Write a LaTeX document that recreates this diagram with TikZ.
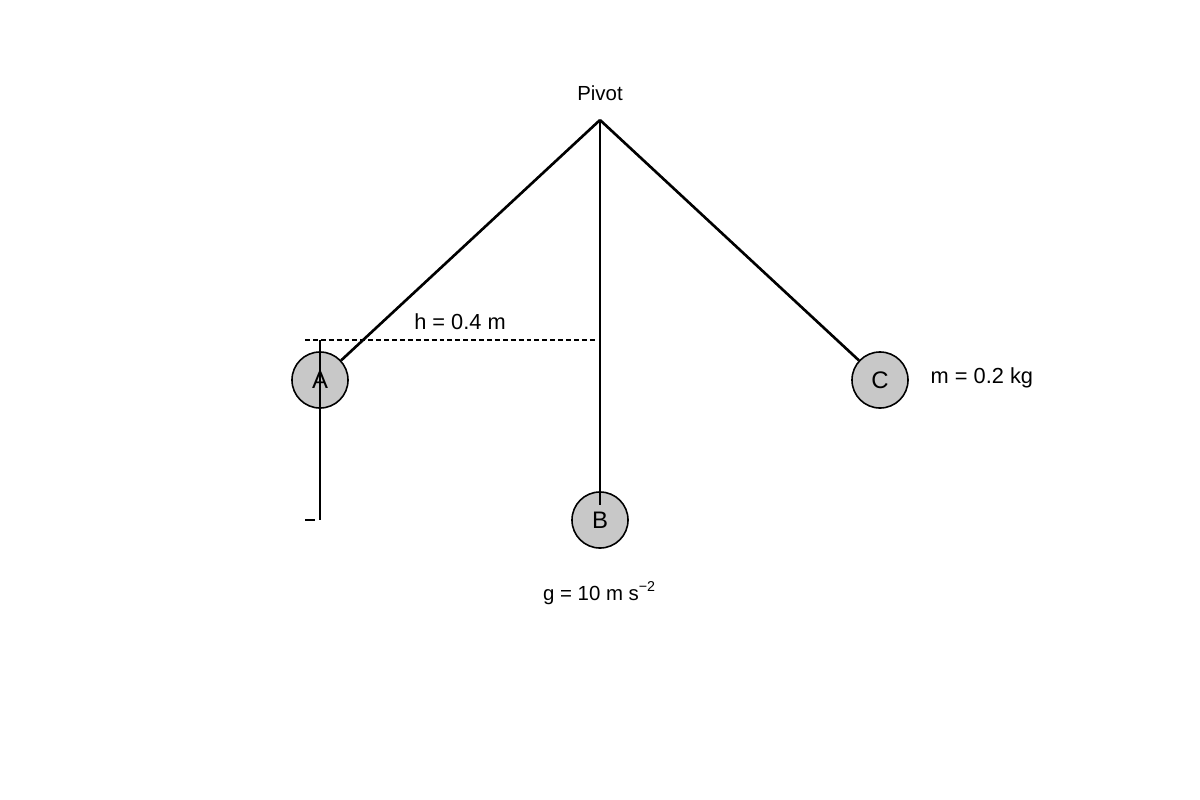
\documentclass[tikz,border=0pt]{standalone}
\usepackage{fontspec}
\setmainfont{Liberation Sans}
\begin{document}
\begin{tikzpicture}[x=0.01cm,y=-0.01cm,
  bob/.style={circle,draw,line width=0.45pt,fill={rgb,255:red,200;green,200;blue,200},inner sep=0pt,minimum size=0.56cm,font=\fontsize{6.8}{8}\selectfont},
  rod/.style={line width=0.75pt},
  lbl/.style={font=\fontsize{6.2}{7.5}\selectfont}]
\useasboundingbox (0,0) rectangle (1200,800);
\coordinate (P) at (600,120);
\node[bob] (A) at (320,380) {A};
\node[bob] (B) at (600,520) {B};
\node[bob] (C) at (880,380) {C};
\draw[rod] (P) -- (A);
\draw[rod] (P) -- (C);
\coordinate (Bt) at (600,505);
\draw[rod] (P) -- (Bt);
\coordinate (d1) at (305,340);
\coordinate (d2) at (597,340);
\draw[line width=0.45pt,dash pattern=on 1.4pt off 0.85pt] (d1) -- (d2);
\coordinate (v1) at (320,340);
\coordinate (v2) at (320,520);
\draw[line width=0.45pt] (v1) -- (v2);
\coordinate (t1) at (305,520);
\coordinate (t2) at (315,520);
\draw[line width=0.45pt] (t1) -- (t2);
\node[font=\fontsize{5.8}{7}\selectfont] (pl) at (600,93) {Pivot};
\node[lbl] (hl) at (460,322) {h = 0.4 m};
\node[lbl,anchor=west,inner sep=0pt] (ml) at (930,378) {m = 0.2 kg};
\node[font=\fontsize{5.8}{7}\selectfont] (gl) at (600,593) {g = 10 m s\textsuperscript{−2}};
\end{tikzpicture}
\end{document}
